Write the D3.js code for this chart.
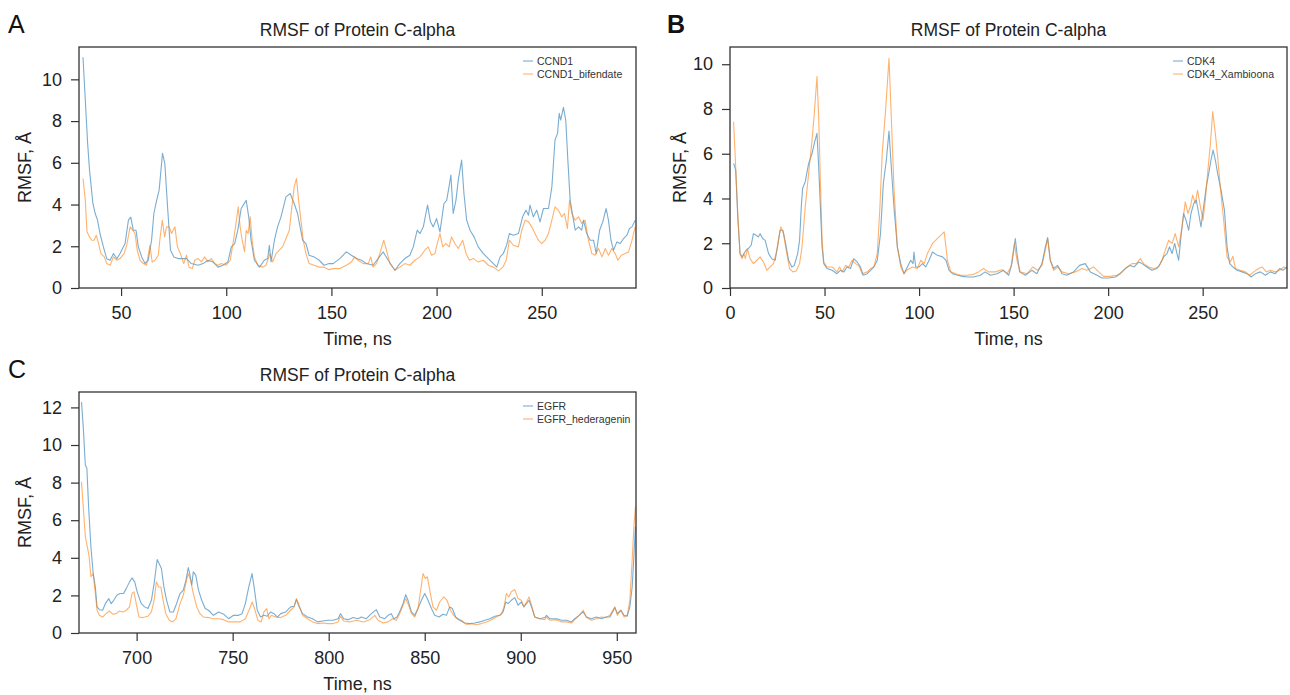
<!DOCTYPE html>
<html>
<head>
<meta charset="utf-8">
<script src="https://cdn.jsdelivr.net/npm/d3@7"></script>
<style>
  html, body { margin: 0; padding: 0; background: #fff; }
  svg { display: block; font-family: "Liberation Sans", Arial, Helvetica, sans-serif; }
  .tick text { fill: #222; }
  .tick line { stroke: #333; }
</style>
</head>
<body>
<svg id="chart" width="1290" height="695"></svg>
<script>
/* ---------- data (time in ns, RMSF in Å) ---------- */
const ccnd1 = [[31.9,11.06],[33,9.0],[34.1,6.93],[35,5.65],[36.6,4.05],[37.7,3.57],[38.8,3.25],[40,2.6],[41.6,1.97],[43.2,1.4],[44.8,1.33],[46.4,1.65],[48,1.4],[49.5,1.65],[51.9,2.13],[53.5,3.25],[54.6,3.4],[55.8,2.77],[57.1,2.77],[58.2,1.97],[59.8,1.49],[61.4,1.17],[62.9,1.33],[64.5,2.29],[65.6,3.57],[66.9,4.2],[68.1,4.69],[69.7,6.45],[70.8,5.97],[72.1,3.89],[73.5,1.81],[75.1,1.49],[77.1,1.41],[81.1,1.41],[83.4,1.17],[86.6,1.09],[89,1.17],[91.3,1.33],[93.7,1.25],[96.1,1.0],[98.4,1.09],[100.8,1.25],[102.4,1.97],[104,2.13],[105.5,2.77],[107.1,3.81],[109.5,4.2],[110.7,3.4],[111.8,2.29],[113.4,1.33],[115.8,1.0],[118.1,1.33],[119.7,1.41],[120.5,2.05],[121.3,1.25],[122.9,2.29],[124.4,2.93],[126,3.4],[128.4,4.37],[130.4,4.53],[132.3,4.05],[133.9,3.57],[136.3,2.29],[137.9,2.13],[139.4,1.57],[141.8,1.49],[144.2,1.33],[146.5,1.09],[148.9,1.17],[150.8,1.17],[154,1.41],[157.1,1.73],[159.5,1.57],[161.9,1.41],[164.3,1.33],[166.7,1.17],[169.8,1.09],[172.2,1.41],[174.6,1.73],[177,1.33],[180.2,0.85],[182.5,1.17],[184.9,1.41],[187.3,1.57],[188.9,1.97],[190.8,2.77],[192.1,2.61],[193.7,2.93],[194.9,3.57],[195.7,3.97],[197.1,3.17],[198.4,2.93],[200,3.33],[201.6,2.69],[203.5,4.05],[204.8,4.2],[205.9,4.85],[206.8,5.41],[207.9,3.57],[209.2,4.2],[210.3,5.17],[211.1,5.65],[211.9,6.13],[213,4.53],[214.3,3.25],[215.9,2.77],[217.8,2.45],[219.8,1.97],[222.2,1.65],[224.6,1.41],[227,1.17],[228.6,1.0],[230.2,1.49],[231.7,1.65],[233.3,2.05],[234.6,2.61],[236.5,2.53],[238.9,2.61],[240.9,3.41],[242.5,3.73],[243.7,3.49],[244.4,3.97],[246,3.41],[247.6,3.73],[249.2,3.17],[250.8,3.81],[253.2,3.81],[254.8,4.85],[256.3,7.09],[257.5,7.41],[258.3,8.37],[259,8.05],[260.3,8.66],[261.4,8.05],[262.4,6.13],[263.5,4.21],[264.8,3.41],[265.9,2.77],[267.5,2.93],[269,2.77],[269.8,3.25],[271.4,2.61],[273,2.29],[274.6,2.29],[275.9,1.65],[277.5,2.77],[279,3.17],[280.6,3.81],[281.7,3.25],[282.9,2.29],[284.1,1.81],[285.7,2.21],[287.3,2.13],[288.9,2.37],[290.5,2.53],[291.7,2.85],[292.9,2.93],[294.4,3.25]];

const ccnd1Bifendate = [[31.9,5.25],[33,4.2],[33.8,2.69],[35,2.45],[36.1,2.29],[37.2,2.29],[38.2,2.53],[39.3,2.13],[40.4,1.65],[42,1.49],[43.2,1.17],[44.8,1.09],[46.4,1.49],[48,1.33],[49.5,1.41],[51.4,1.65],[52.7,2.05],[54.3,2.93],[55.5,2.77],[56.6,2.61],[57.7,1.81],[59,1.33],[60.6,1.17],[62.1,1.09],[63.7,2.05],[64.8,1.25],[66.1,1.33],[67.7,1.57],[68.5,2.37],[69.6,3.25],[70.7,2.45],[71.6,2.93],[72.9,2.93],[74,2.61],[75.6,2.93],[76.8,1.97],[78.2,1.65],[79.8,1.17],[81.1,1.57],[82.3,1.0],[83.9,0.93],[85,1.33],[86.6,1.41],[88.2,1.25],[89.7,1.49],[91.3,1.25],[92.9,1.41],[94.5,1.17],[96.1,1.09],[97.6,1.17],[100,1.09],[101.9,1.33],[103.2,2.13],[104.4,2.93],[105.7,3.89],[106.6,2.93],[107.6,2.29],[108.7,1.73],[109.5,2.77],[110.4,2.61],[111.4,3.41],[112.3,2.29],[113.4,1.49],[115,1.09],[117.4,1.0],[118.9,1.09],[120.8,1.65],[122.1,1.25],[123.7,1.65],[125.2,1.81],[126.8,1.97],[128.4,2.37],[130,2.77],[131.2,3.89],[132.3,4.85],[133.4,5.25],[134.4,4.2],[135.5,3.25],[136.6,2.29],[137.9,1.65],[139.4,1.17],[141.8,1.09],[144.2,1.0],[146.5,1.0],[148.9,0.88],[150.8,0.93],[154,0.93],[157.1,1.09],[159.5,1.25],[161.1,1.49],[162.7,1.33],[165.1,1.17],[167.5,1.17],[168.7,1.49],[169.8,1.0],[171.4,1.17],[173,1.65],[174.9,2.29],[176.2,1.81],[177.8,1.17],[180.2,0.85],[182.5,1.0],[184.9,1.17],[187.3,1.09],[189.7,1.33],[192.1,1.49],[194.4,1.81],[196,1.97],[197.6,1.57],[199.2,1.65],[200.3,2.13],[201.6,2.61],[202.9,1.97],[204.4,2.13],[206,1.97],[207.1,2.45],[208.7,2.13],[210.3,1.89],[212.4,2.29],[214,1.65],[215.6,1.33],[217.5,1.41],[219.8,1.25],[222.2,1.33],[224.6,1.09],[227,1.0],[229.4,0.82],[231.5,1.0],[233.1,1.33],[234.6,2.29],[236.5,2.05],[238.9,1.97],[240.5,2.77],[242.1,3.25],[243.7,3.17],[245.2,2.93],[246.8,2.61],[248.4,2.29],[250,2.13],[251.6,2.29],[253.2,2.61],[254.8,3.25],[256.3,3.89],[257.9,3.73],[259.5,3.41],[260.8,3.57],[262.2,2.85],[263.2,4.21],[264.3,3.57],[265.9,3.25],[267.5,3.41],[269,3.09],[270.6,3.25],[272.2,2.29],[273.8,1.65],[275.4,1.57],[277,1.89],[278.6,1.49],[280.2,1.89],[281.7,1.57],[283.3,1.89],[284.9,1.65],[286.2,1.33],[287.8,1.57],[289.7,1.65],[291.3,1.73],[292.9,2.29],[294.4,2.93]];

const cdk4 = [[1.9,5.57],[3,5.27],[4.1,3.18],[5.3,1.54],[6.4,1.39],[7.4,1.54],[8.5,1.69],[9.7,1.76],[11.2,1.91],[12.4,2.43],[13.8,2.36],[15,2.28],[15.9,2.43],[17.3,2.21],[18.6,2.13],[20.4,1.54],[22.1,1.31],[23.9,1.24],[25.1,1.84],[26.5,2.58],[28,2.58],[29.4,1.99],[31,1.24],[32.7,0.94],[34,1.01],[35.8,1.54],[36.8,2.13],[37.7,3.63],[38.4,4.45],[39.8,4.75],[41.6,5.57],[43.4,6.01],[44.6,6.46],[46,6.91],[46.9,5.42],[47.8,3.63],[48.7,1.84],[49.6,1.09],[51.3,0.87],[54,0.79],[56.6,0.64],[58.4,0.79],[60.2,0.72],[61.9,0.94],[63.7,0.87],[65.5,1.31],[67.3,1.16],[69,0.94],[70.4,0.57],[72.6,0.64],[74.3,0.79],[76.1,0.94],[77.9,1.24],[79.6,2.43],[81.1,4.67],[82.7,5.72],[84.1,7.01],[85.3,5.42],[86.7,3.63],[88.5,1.84],[90.3,1.09],[92,0.64],[93.8,0.94],[95.6,1.24],[96.8,1.09],[97.3,1.61],[98.2,0.94],[100,0.94],[101.8,1.09],[103.5,0.94],[105.3,1.24],[107.1,1.61],[109.7,1.46],[112.4,1.39],[114.2,1.24],[115.9,0.79],[117.7,0.64],[120.4,0.57],[123,0.52],[125.7,0.49],[128.8,0.49],[132.4,0.57],[135,0.72],[137.7,0.57],[141.2,0.64],[144.7,0.79],[147.4,0.57],[149.1,1.09],[150.9,2.21],[151.8,1.54],[153.2,0.72],[156.2,0.57],[159.7,0.79],[162.3,0.64],[165,1.09],[166.8,1.84],[168,2.25],[169.4,1.24],[171.2,0.87],[173.3,1.01],[175.6,0.64],[178.2,0.57],[181.7,0.72],[184.9,1.01],[187.9,1.09],[190.6,0.72],[194.1,0.57],[196.7,0.45],[200.3,0.45],[203.8,0.49],[206.4,0.64],[209.1,0.87],[211.7,1.01],[213.8,0.94],[216.1,1.16],[217.9,1.09],[220.5,0.94],[223.2,0.79],[225.8,0.87],[227.6,1.09],[229.4,1.39],[231.1,1.54],[232.5,1.84],[233.8,1.54],[235.2,1.99],[236.4,1.54],[237.3,1.24],[238.5,2.28],[239.9,3.33],[241.2,3.03],[242.6,2.58],[243.8,3.33],[245.3,3.78],[246.6,3.93],[247.9,3.33],[249.1,2.73],[250.5,3.63],[251.9,4.52],[253.2,5.12],[254.4,5.72],[255.5,6.16],[256.7,5.72],[257.9,5.12],[259.7,4.37],[261.5,3.48],[262.9,1.84],[264.3,1.09],[266,0.94],[268.2,0.79],[270.8,0.72],[273.5,0.64],[275.6,0.49],[277.9,0.64],[280.5,0.72],[283.2,0.57],[285.8,0.72],[288.4,0.64],[290.7,0.87],[292.5,0.79],[294.6,0.94]];

const cdk4Xambioona = [[1.9,7.43],[3,5.42],[4.1,3.33],[5.3,1.54],[6.4,1.31],[7.4,1.54],[8.1,1.31],[9.2,1.76],[10.6,1.31],[12.4,1.09],[14.2,1.24],[15.9,1.39],[17.7,1.16],[19.5,0.79],[21.2,0.94],[23,1.09],[24.8,1.69],[26.2,2.43],[26.9,2.73],[28.3,2.43],[29.7,1.69],[31.5,0.87],[33.3,0.72],[35,0.76],[36.8,1.09],[38.1,1.84],[39.8,3.63],[41.6,5.12],[43.4,6.61],[44.6,7.81],[46,9.45],[46.9,7.66],[47.8,4.82],[48.7,2.13],[49.6,1.16],[51.3,0.94],[54,0.94],[56.6,0.72],[57.9,0.94],[59.3,0.72],[61.1,1.01],[62.8,0.94],[64.6,1.24],[66.4,1.09],[68.1,1.01],[69.9,0.64],[72.6,0.72],[74.3,0.87],[76.1,0.94],[77.9,1.54],[79.3,3.63],[80.5,6.01],[82.3,7.96],[84.1,10.27],[85.3,7.66],[86.7,4.52],[88.5,1.84],[90.3,0.94],[92,0.64],[93.8,0.82],[96.5,0.94],[99.1,0.87],[100.9,1.24],[102.7,1.09],[104.4,1.54],[107.1,1.99],[110.6,2.28],[113.3,2.51],[115,1.24],[116.8,0.72],[119.5,0.64],[122.1,0.57],[125.7,0.57],[128.8,0.61],[131.5,0.72],[134.1,0.87],[136.8,0.72],[140.3,0.72],[143.8,0.82],[146.5,0.64],[148.6,0.94],[150.4,1.99],[151.8,1.24],[153.5,0.72],[157.1,0.64],[160.2,0.94],[162.7,0.79],[165,1.01],[166.8,1.69],[168,2.21],[169.4,1.24],[171.2,0.79],[173.5,0.94],[175.6,0.72],[179.1,0.64],[182.6,0.72],[186.2,0.87],[188.8,0.79],[192.3,0.94],[195,0.72],[197.6,0.52],[201.1,0.52],[204.7,0.57],[207.3,0.72],[210,0.94],[212.6,1.09],[214.9,1.09],[217,1.31],[218.8,1.09],[221.4,0.94],[224.1,0.87],[226.7,0.94],[228.5,1.24],[230.2,1.69],[232,2.13],[233.8,1.99],[235.5,2.43],[237.3,1.84],[239.1,2.73],[240.8,3.85],[242.2,3.33],[243.5,3.63],[244.7,4.15],[246.1,3.78],[247.3,4.37],[248.8,3.63],[250.2,3.03],[251.4,3.93],[252.6,5.12],[254.1,6.46],[255.3,7.88],[256.7,6.91],[257.9,5.87],[259.3,4.52],[261.1,3.03],[262.9,1.39],[264.6,1.16],[266,1.42],[267.3,0.87],[269.9,0.79],[272.6,0.72],[274.9,0.57],[277,0.72],[279.6,0.87],[281.4,0.94],[283.7,0.72],[285.8,0.79],[288.4,0.72],[290.7,0.79],[292.9,0.94],[294.6,0.87]];

const egfr = [[671.3,12.28],[672.2,10.99],[673.3,8.94],[674.1,8.76],[675,6.72],[676.2,4.59],[677.4,3.16],[678.5,2.45],[679.4,1.39],[680.6,1.24],[682.3,1.21],[683.7,1.56],[685.5,1.83],[686.7,1.56],[688.1,1.74],[689.7,2.01],[691.4,2.1],[693.2,2.1],[694.6,2.36],[696.3,2.72],[697.6,2.93],[699,2.72],[700.3,2.19],[702.4,1.56],[704.2,1.39],[705.9,1.3],[707.7,1.74],[709.1,2.63],[710,3.34],[710.7,3.91],[711.7,3.7],[712.9,3.43],[714.2,2.45],[715.6,1.74],[717.3,1.12],[719.1,1.12],[720.8,1.56],[722.6,2.1],[724.3,2.28],[725.7,2.81],[726.9,3.48],[727.8,3.08],[728.7,2.54],[729.5,3.25],[730.8,3.08],[732.2,2.28],[733.9,1.74],[735.7,1.3],[737.4,1.21],[740,0.94],[742.7,1.12],[745.3,1.0],[747.9,0.76],[750.5,0.94],[753.1,0.94],[754.9,1.03],[756.6,1.56],[758.4,2.45],[760.1,3.16],[761.4,2.28],[762.8,1.21],[764.5,0.85],[766.3,0.94],[768,0.89],[769.8,1.12],[771.5,1.03],[773.3,0.85],[775,1.03],[777.6,1.12],[780.2,1.39],[782,1.42],[783.2,1.78],[784.6,1.39],[786.4,1.03],[789,0.85],[791.6,0.76],[794.2,0.59],[796.9,0.64],[799.5,0.68],[802.3,0.68],[804.9,0.76],[806.1,1.03],[807.8,0.76],[810.1,0.71],[812.7,0.82],[815.3,0.76],[817,0.85],[819.6,0.76],[822.2,1.03],[824.8,1.24],[826.6,0.85],[829.2,0.76],[830.9,0.94],[832.6,1.03],[833.9,0.76],[835.6,0.85],[837.3,1.21],[838.7,1.56],[840.1,2.04],[841.3,1.74],[843.1,1.12],[844.8,0.94],[846.5,1.3],[848.3,1.74],[850,2.1],[851.7,1.74],[853.5,1.3],[855.2,0.94],[857.5,0.85],[859.5,1.0],[861.3,0.94],[863,1.39],[864.4,1.3],[866.1,0.85],[868.2,0.68],[870.8,0.53],[873.4,0.5],[876,0.53],[878.6,0.59],[881.3,0.68],[883.9,0.76],[886.5,0.89],[889.1,0.94],[890.8,1.12],[892.2,1.65],[893.4,1.56],[895.1,1.74],[896.9,1.88],[898.6,1.48],[900.3,1.65],[901.6,1.39],[903,1.56],[904.3,1.74],[905.6,1.39],[907.3,0.85],[909.9,0.76],[912.5,0.82],[913.4,0.94],[915.1,0.76],[918.6,0.76],[921.2,0.68],[923.8,0.68],[926.4,0.59],[928.1,0.76],[930.4,0.94],[932.5,1.12],[934.2,0.85],[936.8,0.76],[939.4,0.85],[942,0.76],[944.3,0.85],[946.4,0.85],[949,1.35],[950.3,1.03],[952.1,1.21],[953.8,0.94],[955.4,0.89],[956.8,1.39],[958,2.45],[958.9,4.05],[959.7,5.65]];

const egfrHederagenin = [[671.3,8.05],[672.2,6.72],[673.3,5.12],[674.5,4.5],[675.3,4.05],[676.2,2.99],[677.4,3.16],[678.5,2.1],[679.4,1.21],[680.6,0.94],[682.3,0.85],[684.1,1.03],[685.8,1.17],[687.6,1.0],[689.3,1.03],[691.1,1.17],[692.8,1.12],[694.6,1.21],[696.3,1.39],[697.6,2.1],[698.6,2.19],[699.8,1.56],[701.2,0.85],[703.3,0.82],[705.9,0.89],[707.7,1.12],[709.1,1.74],[710.3,2.72],[711.5,2.45],[712.6,2.45],[713.8,1.74],[715.2,1.03],[717,0.68],[718.7,0.59],[720.5,0.76],[722.6,1.56],[724.3,2.01],[726,2.81],[726.9,3.16],[728.1,2.81],[729.5,2.1],[731.3,1.39],[733,1.03],[734.8,0.85],[737.4,0.82],[740,0.76],[742.7,0.76],[745.3,0.71],[747.9,0.59],[750.5,0.59],[754,0.59],[756.6,0.76],[758.9,1.3],[760.1,1.65],[761.4,1.3],[763.1,0.68],[764.9,0.59],[766.3,1.12],[767.7,1.3],[768.9,0.76],[770.1,0.94],[772.4,0.85],[775,0.82],[777.6,0.94],[780.2,1.21],[782,1.39],[783.2,1.83],[784.6,1.48],[786.4,0.94],[789,0.76],[791.6,0.59],[794.2,0.5],[796.9,0.53],[799.5,0.5],[802.3,0.5],[804.9,0.59],[806.1,0.89],[807.8,0.64],[810.9,0.59],[814.4,0.68],[817.9,0.59],[821.4,0.71],[824,0.94],[825.7,0.68],[828.3,0.53],[830.9,0.59],[833.2,0.76],[835.2,0.68],[837,1.03],[838.7,1.48],[840.1,1.83],[841.3,1.56],[843.1,1.03],[844.8,0.85],[846.5,1.3],[847.9,2.28],[849.1,3.16],[850.3,2.9],[851.4,2.99],[852.6,2.28],[854.3,1.39],[856.1,1.21],[857.8,1.65],[859.9,1.92],[861.6,1.74],[863.4,1.21],[865.1,0.94],[866.8,0.76],[869.1,0.68],[871.7,0.46],[874.3,0.5],[876.9,0.44],[879.5,0.5],[882.1,0.59],[884.7,0.71],[887.3,0.85],[889.9,1.0],[891.3,1.39],[892.5,2.1],[893.8,1.92],[895.1,2.19],[896.9,2.31],[898.6,1.83],[900.3,1.74],[901.6,1.39],[903,1.65],[904.3,1.92],[905.6,1.48],[907.3,0.85],[909.9,0.76],[912.5,0.71],[913.4,0.85],[915.1,0.68],[918.6,0.71],[921.2,0.59],[923.8,0.59],[926.4,0.53],[928.1,0.71],[930.4,0.94],[932.5,1.21],[934.2,0.82],[936.8,0.68],[939.4,0.76],[942,0.85],[944.3,0.82],[946.4,0.94],[949,1.39],[950.3,0.94],[952.1,1.21],[953.8,0.85],[955.4,0.94],[956.8,1.74],[958,3.87],[958.9,5.65],[959.7,6.72]];

const xTicksA = [50, 100, 150, 200, 250];
const xTicksB = [0, 50, 100, 150, 200, 250];
const xTicksC = [700, 750, 800, 850, 900, 950];
const yTicksA = [0, 2, 4, 6, 8, 10];
const yTicksB = [0, 2, 4, 6, 8, 10];
const yTicksC = [0, 2, 4, 6, 8, 10, 12];

/* ---------- layout ---------- */
const BLUE = '#1f77b4';
const ORANGE = '#ff7f0e';

const panels = [
  { letter: 'A', bold: false, x: 79, y: 47, w: 557, h: 241, yLabelX: 31, legendX: 444,
    xDomain: [30, 294.8], yDomain: [0, 11.55], xTicks: xTicksA, yTicks: yTicksA,
    series: [{ name: 'CCND1', data: ccnd1, color: BLUE },
             { name: 'CCND1_bifendate', data: ccnd1Bifendate, color: ORANGE }] },
  { letter: 'B', bold: true, x: 730, y: 47, w: 557, h: 241, yLabelX: 686, legendX: 443,
    xDomain: [0, 294.6], yDomain: [0, 10.77], xTicks: xTicksB, yTicks: yTicksB,
    series: [{ name: 'CDK4', data: cdk4, color: BLUE },
             { name: 'CDK4_Xambioona', data: cdk4Xambioona, color: ORANGE }] },
  { letter: 'C', bold: false, x: 79, y: 392, w: 557, h: 241, yLabelX: 31, legendX: 444,
    xDomain: [670, 960], yDomain: [0, 12.82], xTicks: xTicksC, yTicks: yTicksC,
    series: [{ name: 'EGFR', data: egfr, color: BLUE },
             { name: 'EGFR_hederagenin', data: egfrHederagenin, color: ORANGE }] },
];

const svg = d3.select('#chart');

panels.forEach(drawPanel);

function drawPanel(p) {
  const g = svg.append('g').attr('transform', `translate(${p.x},${p.y})`);
  const x = d3.scaleLinear().domain(p.xDomain).range([0, p.w]);
  const y = d3.scaleLinear().domain(p.yDomain).range([p.h, 0]);

  // lines
  const line = d3.line().x(d => x(d[0])).y(d => y(d[1]));
  const clipId = 'clip-' + p.letter;
  g.append('clipPath').attr('id', clipId)
    .append('rect').attr('width', p.w).attr('height', p.h);
  const lines = g.append('g').attr('clip-path', `url(#${clipId})`);
  p.series.forEach(s => {
    lines.append('path')
      .datum(s.data)
      .attr('fill', 'none')
      .attr('stroke', s.color)
      .attr('stroke-opacity', 0.6)
      .attr('stroke-width', 1.1)
      .attr('stroke-linejoin', 'round')
      .attr('d', line);
  });

  // axes
  const xAxis = g.append('g').attr('transform', `translate(0,${p.h})`)
    .call(d3.axisBottom(x).tickValues(p.xTicks).tickSize(8).tickPadding(10));
  const yAxis = g.append('g')
    .call(d3.axisLeft(y).tickValues(p.yTicks).tickSize(8).tickPadding(9));
  [xAxis, yAxis].forEach(a => {
    a.select('.domain').remove();
    a.selectAll('text').attr('font-size', 18).attr('font-family', null);
    a.selectAll('line').attr('stroke-width', 1.2);
  });

  // frame
  g.append('rect')
    .attr('width', p.w).attr('height', p.h)
    .attr('fill', 'none').attr('stroke', '#333').attr('stroke-width', 1.3);

  // title
  g.append('text')
    .attr('x', p.w / 2).attr('y', -11)
    .attr('text-anchor', 'middle')
    .attr('font-size', 17.5).attr('fill', '#222')
    .text('RMSF of Protein C-alpha');

  // axis labels
  g.append('text')
    .attr('x', p.w / 2).attr('y', p.h + 57)
    .attr('text-anchor', 'middle')
    .attr('font-size', 18).attr('fill', '#222')
    .text('Time, ns');
  svg.append('text')
    .attr('transform', `translate(${p.yLabelX},${p.y + p.h / 2}) rotate(-90)`)
    .attr('text-anchor', 'middle')
    .attr('font-size', 18).attr('fill', '#222')
    .text('RMSF, Å');

  // panel letter
  svg.append('text')
    .attr('x', p.x - (p.letter === 'B' ? 63 : 71))
    .attr('y', p.y - 14)
    .attr('font-size', 25)
    .attr('font-weight', p.bold ? 'bold' : 'normal')
    .attr('fill', '#111')
    .text(p.letter);

  // legend
  const leg = g.append('g').attr('transform', `translate(${p.legendX},14)`);
  p.series.forEach((s, i) => {
    const row = leg.append('g').attr('transform', `translate(0,${i * 13})`);
    row.append('line')
      .attr('x1', 0).attr('x2', 10)
      .attr('stroke', s.color).attr('stroke-opacity', 0.6).attr('stroke-width', 1.1);
    row.append('text')
      .attr('x', 14).attr('dy', '0.35em')
      .attr('font-size', 10.5).attr('fill', '#333')
      .text(s.name);
  });
}
</script>
</body>
</html>
